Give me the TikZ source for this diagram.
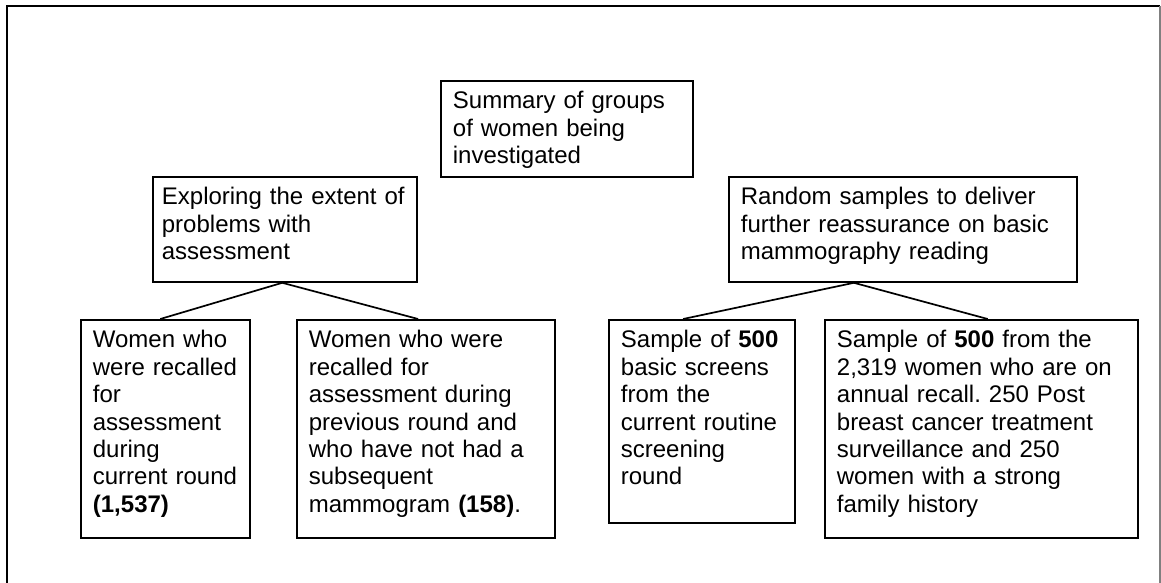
\documentclass[tikz,border=0pt]{standalone}
\usepackage{fontspec}
\setmainfont{Liberation Sans}
\frenchspacing
\usetikzlibrary{calc}

\tikzset{
  groupbox/.style={draw, line width=1.8pt, anchor=north west, align=left,
    inner xsep=12pt, inner ysep=0pt, text height=28pt,
    font=\fontsize{24}{27.4}\selectfont},
  link/.style={line width=1.7pt}
}

\begin{document}
\begin{tikzpicture}[x=1pt,y=-1pt]
\useasboundingbox (0,0) rectangle (1161,583);

% Frame round the figure
\draw[line width=2pt] (7,583) -- (7,6) -- (1160,6);
\draw[gray, line width=1.2pt] (1160,6) -- (1160,583);

% Top
\node[groupbox, text width=228pt, text depth=68pt] (summary) at (440,80)
  {Summary of groups\\ of women being\\ investigated};

% Second row
\node[groupbox, inner xsep=9pt, text width=246pt, text depth=77pt] (explore) at (152,176)
  {Exploring the extent of\\ problems with\\ assessment};
\node[groupbox, text width=324pt, text depth=77pt] (random) at (728,176)
  {Random samples to deliver\\ further reassurance on basic\\ mammography reading};

% Bottom row
\node[groupbox, text width=145pt, text depth=190pt] (current) at (80,319)
  {Women who\\ were recalled\\ for\\ assessment\\ during\\ current round\\ \textbf{(1,537)}};
\node[groupbox, text width=234pt, text depth=190pt] (previous) at (296,319)
  {Women who were\\ recalled for\\ assessment during\\ previous round and\\ who have not had a\\ subsequent\\ mammogram \textbf{(158)}.};
\node[groupbox, text width=162pt, text depth=175pt] (basic) at (608,319)
  {Sample of \textbf{500}\\ basic screens\\ from the\\ current routine\\ screening\\ round};
\node[groupbox, text width=289pt, text depth=190pt] (annual) at (824,319)
  {Sample of \textbf{500} from the\\ 2,319 women who are on\\ annual recall. 250 Post\\ breast cancer treatment\\ surveillance and 250\\ women with a strong\\ family history};

% Connectors
\draw[link] ($(current.north west)!0.47!(current.north east)$)
  -- ($(explore.south west)!0.49!(explore.south east)$)
  -- ($(previous.north west)!0.47!(previous.north east)$);
\draw[link] ($(basic.north west)!0.40!(basic.north east)$)
  -- ($(random.south west)!0.36!(random.south east)$)
  -- ($(annual.north west)!0.52!(annual.north east)$);

\end{tikzpicture}
\end{document}
